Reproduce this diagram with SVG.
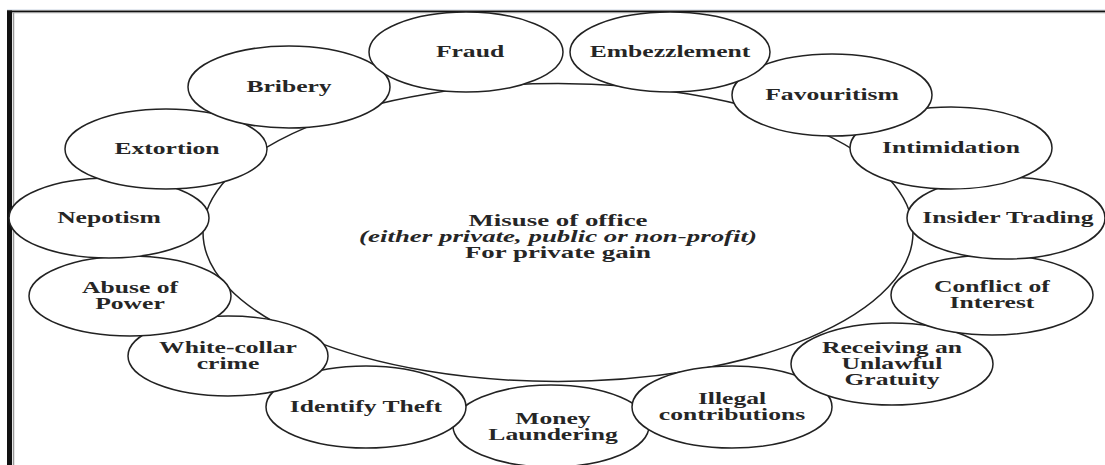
<svg xmlns="http://www.w3.org/2000/svg" width="1105" height="465" viewBox="0 0 1105 465">
<style>
.bg{fill:#ffffff}
.node{fill:#ffffff;stroke:#222222;stroke-width:1.5}
.hub{fill:#ffffff;stroke:#222222;stroke-width:1.5}
.lbl{font-family:"Liberation Serif","Times New Roman",serif;font-weight:bold;font-size:16px;fill:#262626;text-anchor:middle}
.it{font-style:italic}
</style>
<rect class="bg" x="0" y="0" width="1105" height="465"/>
<line x1="7" y1="9.5" x2="1105" y2="9.5" stroke="#e4e9f0" stroke-width="1"/>
<line x1="7" y1="11.5" x2="1105" y2="11.5" stroke="#111111" stroke-width="2"/>
<line x1="12" y1="13" x2="1105" y2="13" stroke="#c8c8c8" stroke-width="0.8"/>
<rect x="7" y="10.5" width="5" height="455" fill="#111111"/>
<line x1="13.5" y1="13" x2="13.5" y2="465" stroke="#9a9a9a" stroke-width="1.5"/>

<g id="center">
<ellipse class="hub" cx="558" cy="232.5" rx="355" ry="149"/>
<text class="lbl" transform="translate(558 0) scale(1.68 1)"><tspan x="0" y="226">Misuse of office</tspan><tspan x="0" y="242" class="it">(either private, public or non-profit)</tspan><tspan x="0" y="258">For private gain</tspan></text>
</g>

<g id="connectors"></g>

<g id="money-laundering"><ellipse class="node" cx="551" cy="426" rx="98" ry="41"/><text class="lbl" transform="translate(553 0) scale(1.6 1)"><tspan x="0" y="424">Money</tspan><tspan x="0" y="440">Laundering</tspan></text></g>
<g id="identify-theft"><ellipse class="node" cx="366" cy="407" rx="100" ry="41"/><text class="lbl" transform="translate(366 0) scale(1.6 1)"><tspan x="0" y="412.5">Identify Theft</tspan></text></g>
<g id="illegal-contributions"><ellipse class="node" cx="732" cy="407" rx="100" ry="41"/><text class="lbl" transform="translate(732 0) scale(1.6 1)"><tspan x="0" y="404">Illegal</tspan><tspan x="0" y="420">contributions</tspan></text></g>
<g id="white-collar"><ellipse class="node" cx="228" cy="356" rx="100" ry="40"/><text class="lbl" transform="translate(228 0) scale(1.6 1)"><tspan x="0" y="353">White-collar</tspan><tspan x="0" y="369">crime</tspan></text></g>
<g id="receiving"><ellipse class="node" cx="892" cy="364" rx="101" ry="41"/><text class="lbl" transform="translate(892 0) scale(1.6 1)"><tspan x="0" y="353">Receiving an</tspan><tspan x="0" y="369">Unlawful</tspan><tspan x="0" y="385">Gratuity</tspan></text></g>
<g id="abuse-of-power"><ellipse class="node" cx="130" cy="296" rx="101" ry="40"/><text class="lbl" transform="translate(130 0) scale(1.6 1)"><tspan x="0" y="293">Abuse of</tspan><tspan x="0" y="309">Power</tspan></text></g>
<g id="conflict-of-interest"><ellipse class="node" cx="992" cy="295" rx="101" ry="40"/><text class="lbl" transform="translate(992 0) scale(1.6 1)"><tspan x="0" y="292">Conflict of</tspan><tspan x="0" y="308">Interest</tspan></text></g>
<g id="nepotism"><ellipse class="node" cx="109" cy="218" rx="100" ry="40"/><text class="lbl" transform="translate(109 0) scale(1.6 1)"><tspan x="0" y="223.5">Nepotism</tspan></text></g>
<g id="insider-trading"><ellipse class="node" cx="1006" cy="218" rx="99" ry="41"/><text class="lbl" transform="translate(1008 0) scale(1.6 1)"><tspan x="0" y="223.5">Insider Trading</tspan></text></g>
<g id="extortion"><ellipse class="node" cx="166" cy="149" rx="101" ry="40"/><text class="lbl" transform="translate(167 0) scale(1.6 1)"><tspan x="0" y="154.5">Extortion</tspan></text></g>
<g id="intimidation"><ellipse class="node" cx="951" cy="148" rx="101" ry="41"/><text class="lbl" transform="translate(951 0) scale(1.6 1)"><tspan x="0" y="153.5">Intimidation</tspan></text></g>
<g id="bribery"><ellipse class="node" cx="289" cy="87" rx="101" ry="41"/><text class="lbl" transform="translate(289 0) scale(1.6 1)"><tspan x="0" y="92.5">Bribery</tspan></text></g>
<g id="favouritism"><ellipse class="node" cx="832" cy="95" rx="100" ry="41"/><text class="lbl" transform="translate(832 0) scale(1.6 1)"><tspan x="0" y="100.5">Favouritism</tspan></text></g>
<g id="fraud"><ellipse class="node" cx="466" cy="52" rx="97" ry="40"/><text class="lbl" transform="translate(470 0) scale(1.6 1)"><tspan x="0" y="57.5">Fraud</tspan></text></g>
<g id="embezzlement"><ellipse class="node" cx="670" cy="52" rx="100" ry="40"/><text class="lbl" transform="translate(670 0) scale(1.6 1)"><tspan x="0" y="57.5">Embezzlement</tspan></text></g>
</svg>
